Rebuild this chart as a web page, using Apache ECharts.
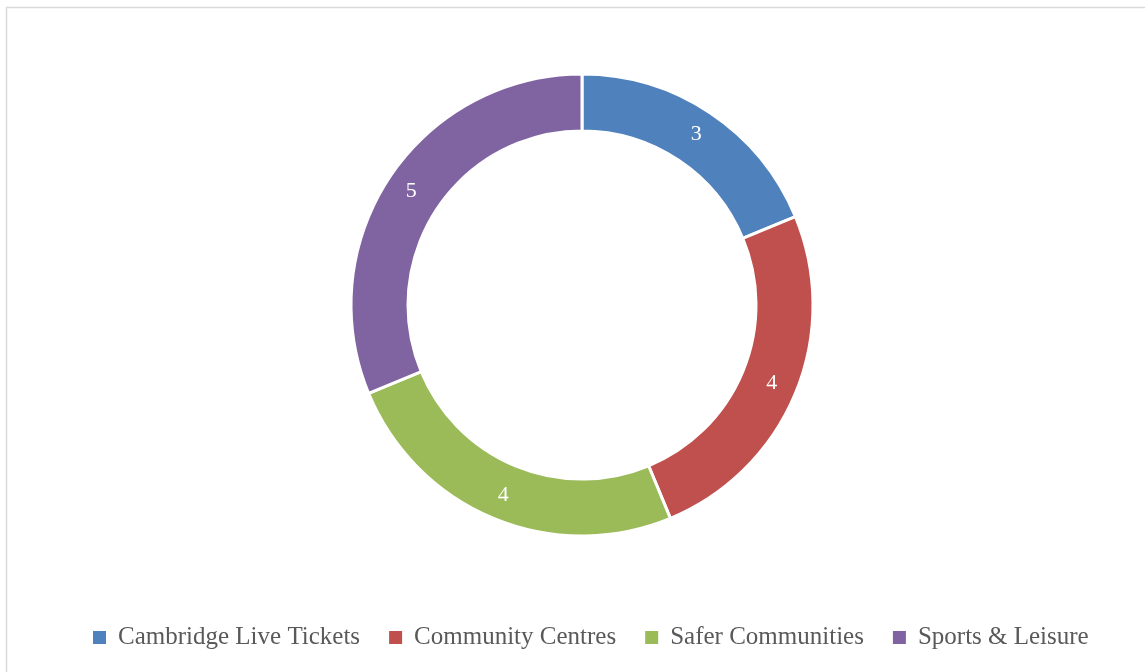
<!DOCTYPE html>
<html>
<head>
<meta charset="utf-8">
<script src="https://cdn.jsdelivr.net/npm/echarts@6/dist/echarts.min.js"></script>
<style>
  html, body { margin: 0; padding: 0; background: #fff; }
  #chart { width: 1145px; height: 672px; }
</style>
</head>
<body>
<div id="chart"></div>
<script>
  // chart data
  var categories = ['Cambridge Live Tickets', 'Community Centres', 'Safer Communities', 'Sports & Leisure'];
  var values = [3, 4, 4, 5];
  var colors = ['#4F81BD', '#C0504D', '#9BBB59', '#8064A2'];

  var chart = echarts.init(document.getElementById('chart'));

  var pieData = categories.map(function (name, i) {
    return { name: name, value: values[i], itemStyle: { color: colors[i] } };
  });

  var option = {
    animation: false,
    textStyle: { fontFamily: 'Liberation Serif' },
    graphic: [{
      type: 'rect',
      shape: { x: 6.5, y: 7.5, width: 1200, height: 700 },
      style: { fill: 'none', stroke: '#d9d9d9', lineWidth: 1.5 },
      silent: true
    }],
    legend: {
      top: 620,
      left: 86,
      itemWidth: 15,
      itemHeight: 15,
      itemGap: 27,
      icon: 'rect',
      textStyle: {
        color: '#595959', fontSize: 25, fontFamily: 'Liberation Serif',
        padding: [0, 0, 0, 6]
      },
      data: categories
    },
    series: [{
      type: 'pie',
      center: [582, 305],
      radius: [174, 231],
      startAngle: 90,
      clockwise: true,
      label: {
        show: true,
        position: 'inside',
        formatter: '{c}',
        color: '#fff',
        fontSize: 22,
        fontFamily: 'Liberation Serif'
      },
      labelLine: { show: false },
      itemStyle: { borderColor: '#fff', borderWidth: 3 },
      emphasis: { disabled: true },
      data: pieData
    }]
  };

  chart.setOption(option);
</script>
</body>
</html>
